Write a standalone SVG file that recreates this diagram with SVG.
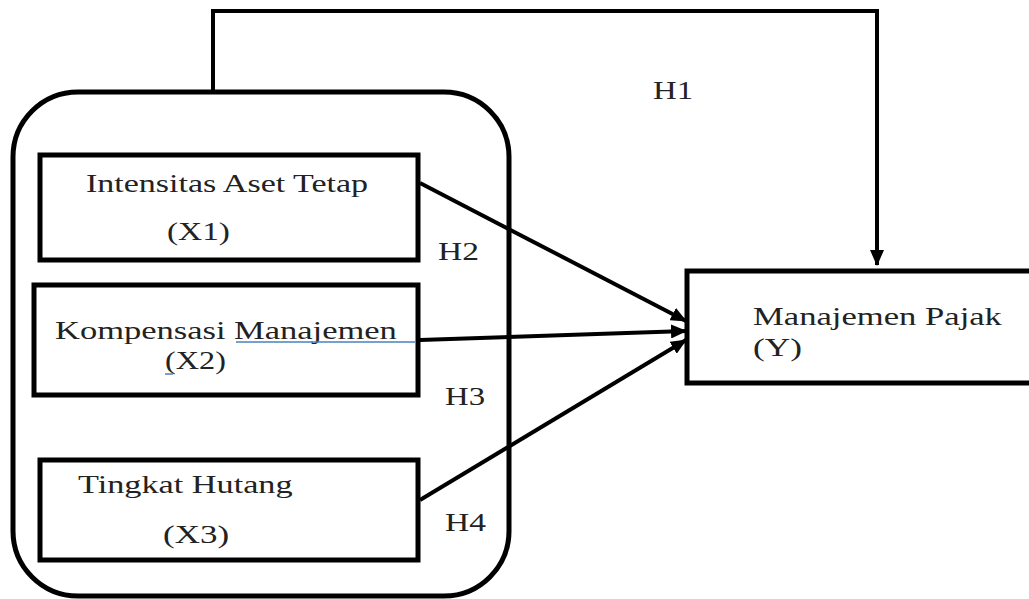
<svg xmlns="http://www.w3.org/2000/svg" width="1029" height="599" viewBox="0 0 1029 599">
<style>
.box{fill:#fff;stroke:#000;stroke-width:5}
.t{font-family:"Liberation Serif","Times New Roman",serif;font-size:25px;fill:#222}
.c{fill:none;stroke:#000;stroke-width:4}
</style>
<defs>
<marker id="ah" markerUnits="userSpaceOnUse" markerWidth="16" markerHeight="14" refX="15" refY="7" orient="auto">
<path d="M0,0 L16,7 L0,14 Z" fill="#000"/>
</marker>
</defs>
<rect width="1029" height="599" fill="#fff"/>
<g id="group-outer">
<rect x="13" y="92" width="496" height="504" rx="65" ry="65" class="box"/>
</g>
<g id="node-x1">
<rect x="40" y="155" width="378" height="105" class="box"/>
<text class="t" transform="translate(86,192) scale(1.36,1)">Intensitas Aset Tetap</text>
<text class="t" transform="translate(167,240) scale(1.335,1)">(X1)</text>
</g>
<g id="node-x2">
<rect x="34" y="285" width="384" height="110" class="box"/>
<text class="t" transform="translate(55,339) scale(1.38,1)">Kompensasi Manajemen</text>
<line x1="236" y1="342" x2="415" y2="342" stroke="#4a7fc0" stroke-width="1.5"/>
<text class="t" transform="translate(165,369) scale(1.29,1)">(X2)</text>
<line x1="165" y1="374" x2="173" y2="374" stroke="#4a7fc0" stroke-width="1.5"/>
</g>
<g id="node-x3">
<rect x="40" y="460" width="378" height="100" class="box"/>
<text class="t" transform="translate(78,493) scale(1.37,1)">Tingkat Hutang</text>
<text class="t" transform="translate(163,543) scale(1.4,1)">(X3)</text>
</g>
<g id="node-y">
<rect x="687" y="271" width="350" height="112" class="box"/>
<text class="t" transform="translate(753,325) scale(1.385,1)">Manajemen Pajak</text>
<text class="t" transform="translate(753,356) scale(1.41,1)">(Y)</text>
</g>
<g id="connectors">
<polyline class="c" points="213,92 213,11 877,11 877,265" stroke-width="3" marker-end="url(#ah)"/>
<line class="c" x1="420" y1="183" x2="686" y2="321" marker-end="url(#ah)"/>
<line class="c" x1="420" y1="340" x2="686" y2="331" marker-end="url(#ah)"/>
<line class="c" x1="420" y1="500" x2="686" y2="340" marker-end="url(#ah)"/>
</g>
<g id="labels">
<text class="t" transform="translate(653,99) scale(1.31,1)">H1</text>
<text class="t" transform="translate(438,260) scale(1.34,1)">H2</text>
<text class="t" transform="translate(445,405) scale(1.31,1)">H3</text>
<text class="t" transform="translate(445,531) scale(1.34,1)">H4</text>
</g>
</svg>
